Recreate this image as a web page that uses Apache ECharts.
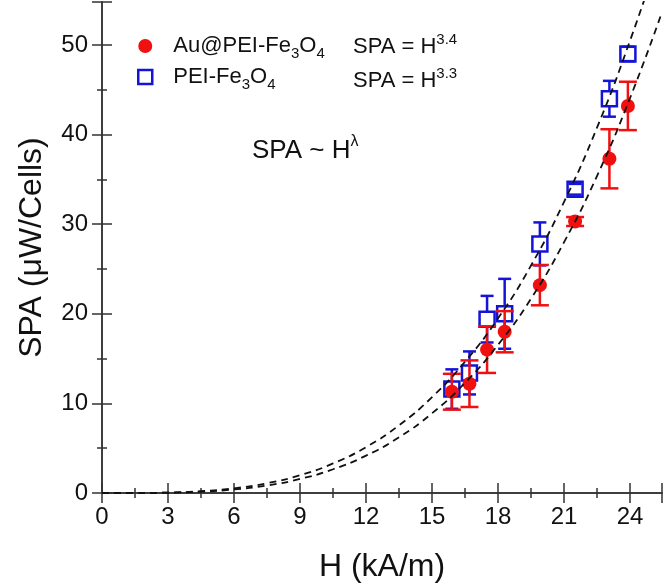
<!DOCTYPE html>
<html>
<head>
<meta charset="utf-8">
<script src="https://cdn.jsdelivr.net/npm/echarts@6/dist/echarts.min.js"></script>
<style>html,body{margin:0;padding:0;background:#fff}#c{width:665px;height:588px}</style>
</head>
<body>
<div id="c"></div>
<script>
// measured points, H in kA/m, SPA in uW/cells
const hAu = [15.9, 16.7, 17.5, 18.3, 19.9, 21.5, 23.06, 23.9];
const spaAu = [11.3, 12.2, 16.0, 18.0, 23.2, 30.3, 37.3, 43.2];
const errAu = [2.0, 2.6, 2.6, 2.3, 2.25, 0.5, 3.3, 2.7];
const hPei = [15.9, 16.7, 17.5, 18.3, 19.9, 21.5, 23.06, 23.9];
const spaPei = [11.6, 13.4, 19.4, 20.0, 27.8, 33.9, 44.0, 49.0];
const errPei = [2.2, 2.4, 2.6, 3.9, 2.4, 0.6, 2.0, 0.8];
// dashed fit curves
const fitH = [0, 1.5, 3, 4.5, 6, 7.5, 9, 10.5, 12, 13.5, 15, 16.5, 18, 19.5, 21, 22.5, 24, 25.44];
const fitAu = [0, 0.004, 0.037, 0.149, 0.395, 0.84, 1.57, 2.65, 4.17, 6.22, 8.9, 12.3, 16.55, 21.7, 28.0, 35.4, 44.1, 53.6];
const fitPei = [0, 0.005, 0.053, 0.2, 0.52, 1.09, 1.98, 3.3, 5.12, 7.56, 10.7, 14.66, 19.5, 25.4, 32.5, 40.8, 50.5, 60.9];

const RED = '#f01010', BLUE = '#1414d8', FONT = 'Liberation Sans';
const zip = (a, b, c) => a.map((v, i) => c ? [v, b[i], c[i]] : [v, b[i]]);

const errBar = (cap, gap, color, width) => (params, api) => {
  const x = api.value(0), y = api.value(1), e = api.value(2);
  const c = api.coord([x, y]), t = api.coord([x, y + e]), b = api.coord([x, y - e]);
  const st = { stroke: color, lineWidth: width };
  const kids = [
    { type: 'line', shape: { x1: c[0] - cap, y1: t[1], x2: c[0] + cap, y2: t[1] }, style: st },
    { type: 'line', shape: { x1: c[0] - cap, y1: b[1], x2: c[0] + cap, y2: b[1] }, style: st }
  ];
  if (c[1] - t[1] > gap) kids.push({ type: 'line', shape: { x1: c[0], y1: c[1] - gap, x2: c[0], y2: t[1] }, style: st });
  if (b[1] - c[1] > gap) kids.push({ type: 'line', shape: { x1: c[0], y1: c[1] + gap, x2: c[0], y2: b[1] }, style: st });
  return { type: 'group', children: kids };
};

const axLine = { show: true, lineStyle: { color: '#333', width: 1.5 } };
const tick = { show: true, inside: true, length: 10, lineStyle: { color: '#333', width: 1.5 } };
const minor = { show: true, splitNumber: 2, length: 5, lineStyle: { color: '#333', width: 1.5 } };
const lbl = { fontFamily: FONT, fontSize: 24, color: '#111' };

const chart = echarts.init(document.getElementById('c'));
chart.setOption({
  animation: false,
  grid: { left: 102, top: 2, width: 560, height: 492 },
  xAxis: [
    { type: 'value', min: 0, max: 25.45, interval: 3, axisLine: axLine, axisTick: tick, minorTick: minor,
      splitLine: { show: false }, axisLabel: Object.assign({ margin: 12, showMaxLabel: false }, lbl),
      name: 'H (kA/m)', nameLocation: 'middle', nameGap: 58, nameTextStyle: { fontFamily: FONT, fontSize: 32, color: '#111' } },
    { type: 'value', position: 'top', min: 0, max: 25.45, interval: 3, axisLine: axLine, axisTick: tick, minorTick: minor,
      splitLine: { show: false }, axisLabel: { show: false } }
  ],
  yAxis: [
    { type: 'value', min: 0, max: 54.8, interval: 10, axisLine: axLine, axisTick: tick, minorTick: minor,
      splitLine: { show: false }, axisLabel: Object.assign({ margin: 14, showMaxLabel: false }, lbl),
      name: 'SPA (\u03bcW/Cells)', nameLocation: 'middle', nameGap: 54, nameTextStyle: { fontFamily: FONT, fontSize: 32, color: '#111' } },
    { type: 'value', position: 'right', min: 0, max: 54.8, interval: 10, axisLine: axLine, axisTick: tick, minorTick: minor,
      splitLine: { show: false }, axisLabel: { show: false } }
  ],
  legend: {
    orient: 'vertical', left: 132, top: 30, itemWidth: 14, itemHeight: 14, itemGap: 5,
    data: [
      { name: 'Au@PEI-Fe3O4', icon: 'circle', itemStyle: { color: RED, opacity: 1 } },
      { name: 'PEI-Fe3O4', icon: 'rect', itemStyle: { color: 'rgba(0,0,0,0)', borderColor: BLUE, borderWidth: 2.5, opacity: 1 } }
    ],
    formatter: n => n === 'Au@PEI-Fe3O4'
      ? '{sp|}{n|Au@PEI-Fe}{sub|3}{n|O}{sub|4}'
      : '{sp|}{n|PEI-Fe}{sub|3}{n|O}{sub|4}',
    textStyle: {
      fontFamily: FONT, color: '#111',
      rich: {
        sp: { width: 16 },
        n: { fontFamily: FONT, fontSize: 22, lineHeight: 30, color: '#111' },
        sub: { fontFamily: FONT, fontSize: 15, lineHeight: 14, verticalAlign: 'bottom', color: '#111' }
      }
    }
  },
  graphic: [
    { type: 'text', left: 353, top: 32, style: { text: '{n|SPA = H}{s|3.4}', rich: {
      n: { fontFamily: FONT, fontSize: 22, lineHeight: 30, fill: '#111' },
      s: { fontFamily: FONT, fontSize: 15, lineHeight: 14, verticalAlign: 'top', fill: '#111' } } } },
    { type: 'text', left: 353, top: 66, style: { text: '{n|SPA = H}{s|3.3}', rich: {
      n: { fontFamily: FONT, fontSize: 22, lineHeight: 30, fill: '#111' },
      s: { fontFamily: FONT, fontSize: 15, lineHeight: 14, verticalAlign: 'top', fill: '#111' } } } },
    { type: 'text', left: 252, top: 134, style: { text: '{n|SPA ~ H}{s|\u03bb}', rich: {
      n: { fontFamily: FONT, fontSize: 26, lineHeight: 34, fill: '#111' },
      s: { fontFamily: FONT, fontSize: 16, lineHeight: 16, verticalAlign: 'top', fill: '#111' } } } }
  ],
  series: [
    { type: 'custom', name: 'errPei', renderItem: errBar(6.5, 7.5, BLUE, 2.5), data: zip(hPei, spaPei, errPei), z: 2, silent: true },
    { type: 'scatter', name: 'PEI-Fe3O4', data: zip(hPei, spaPei), symbol: 'rect', symbolSize: 15, z: 3,
      itemStyle: { color: 'rgba(0,0,0,0)', borderColor: BLUE, borderWidth: 2.5, opacity: 1 } },
    { type: 'custom', name: 'errAu', renderItem: errBar(9, 2, RED, 2.5), data: zip(hAu, spaAu, errAu), z: 4, silent: true },
    { type: 'scatter', name: 'Au@PEI-Fe3O4', data: zip(hAu, spaAu), symbol: 'circle', symbolSize: 14, z: 5,
      itemStyle: { color: RED, opacity: 1 } },
    { type: 'line', name: 'fitAu', data: zip(fitH, fitAu), smooth: true, showSymbol: false, clip: true, z: 6,
      lineStyle: { color: '#111', width: 1.8, type: [7, 5] } },
    { type: 'line', name: 'fitPei', data: zip(fitH, fitPei), smooth: true, showSymbol: false, clip: true, z: 6,
      lineStyle: { color: '#111', width: 1.8, type: [7, 5] } }
  ]
});
</script>
</body>
</html>
